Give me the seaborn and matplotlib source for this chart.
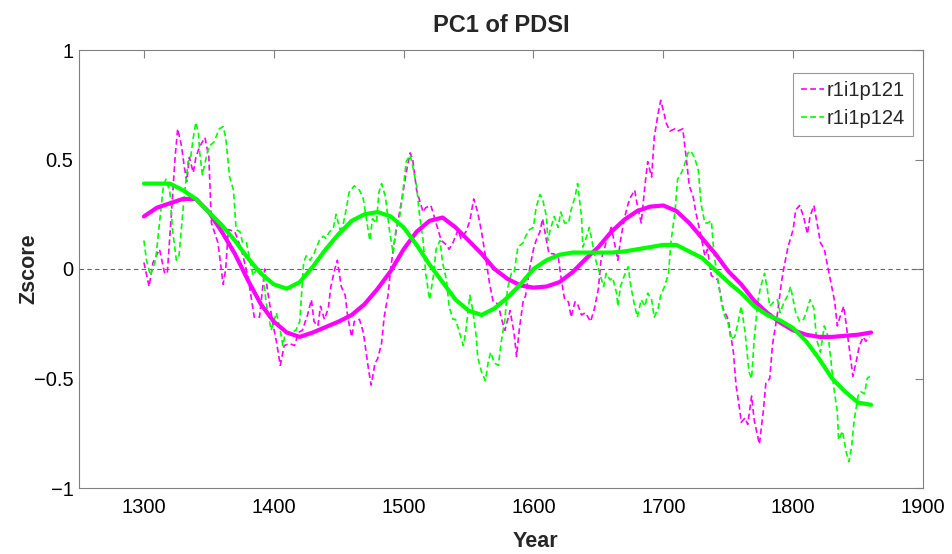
import numpy as np
import pandas as pd
import matplotlib
matplotlib.use("Agg")
import matplotlib.pyplot as plt
import seaborn as sns

# raw PC1 series (dashed)
yr_121 = [1300, 1304, 1307, 1312, 1316, 1318, 1321, 1324, 1326, 1329, 1331, 1333, 1335, 1338,
          1340, 1343, 1347, 1350, 1352, 1357, 1361, 1363, 1365, 1370, 1375, 1380, 1385, 1389,
          1393, 1395, 1399, 1402, 1405, 1408, 1412, 1416, 1419, 1422, 1426, 1429, 1431, 1434,
          1436, 1439, 1442, 1444, 1447, 1449, 1452, 1455, 1457, 1460, 1462, 1466, 1469, 1473,
          1475, 1478, 1480, 1483, 1485, 1488, 1490, 1493, 1496, 1499, 1502, 1505, 1507, 1510,
          1512, 1515, 1517, 1521, 1524, 1529, 1533, 1535, 1538, 1542, 1544, 1548, 1551, 1554,
          1557, 1560, 1563, 1566, 1569, 1573, 1575, 1578, 1582, 1585, 1587, 1589, 1592, 1594,
          1597, 1600, 1602, 1605, 1607, 1610, 1612, 1615, 1619, 1621, 1624, 1627, 1629, 1632,
          1634, 1637, 1640, 1642, 1644, 1647, 1650, 1652, 1655, 1657, 1660, 1662, 1665, 1667,
          1670, 1673, 1675, 1678, 1680, 1683, 1686, 1688, 1691, 1693, 1696, 1698, 1701, 1702,
          1705, 1709, 1711, 1715, 1718, 1720, 1723, 1725, 1729, 1732, 1734, 1737, 1742, 1746,
          1750, 1754, 1756, 1759, 1760, 1763, 1765, 1768, 1770, 1774, 1777, 1779, 1782, 1784,
          1788, 1791, 1793, 1796, 1800, 1802, 1805, 1808, 1811, 1813, 1816, 1819, 1821, 1824,
          1827, 1829, 1832, 1834, 1836, 1839, 1841, 1844, 1846, 1849, 1851, 1854, 1856, 1859]
pc_121 = [0.03, -0.08, 0.03, 0.09, -0.02, -0.02, 0.24, 0.51, 0.64, 0.56, 0.47, 0.40, 0.51, 0.44,
          0.51, 0.56, 0.60, 0.51, 0.21, 0.12, -0.07, 0.00, 0.18, 0.17, 0.09, -0.03, -0.22, -0.22,
          0.00, -0.09, -0.24, -0.33, -0.44, -0.35, -0.34, -0.35, -0.29, -0.28, -0.21, -0.14, -0.24, -0.26,
          -0.17, -0.23, -0.18, -0.08, 0.00, 0.04, -0.08, -0.12, -0.22, -0.31, -0.24, -0.23, -0.29, -0.46,
          -0.53, -0.43, -0.41, -0.34, -0.22, -0.12, 0.00, 0.13, 0.23, 0.33, 0.44, 0.53, 0.50, 0.36,
          0.32, 0.26, 0.28, 0.29, 0.23, 0.13, 0.11, 0.09, 0.12, 0.18, 0.14, 0.17, 0.22, 0.32,
          0.26, 0.17, 0.06, -0.06, -0.15, -0.16, -0.22, -0.28, -0.19, -0.29, -0.40, -0.28, -0.15, -0.12,
          0.00, 0.09, 0.13, 0.17, 0.23, 0.13, 0.07, 0.07, 0.06, -0.03, -0.14, -0.15, -0.22, -0.15,
          -0.16, -0.21, -0.20, -0.22, -0.24, -0.18, -0.09, 0.04, 0.10, 0.15, 0.19, 0.13, 0.04, 0.13,
          0.23, 0.30, 0.33, 0.36, 0.29, 0.21, 0.39, 0.49, 0.42, 0.60, 0.71, 0.77, 0.70, 0.67,
          0.63, 0.64, 0.63, 0.64, 0.49, 0.38, 0.33, 0.26, 0.15, 0.06, 0.09, -0.03, -0.05, -0.18,
          -0.23, -0.38, -0.53, -0.65, -0.70, -0.68, -0.71, -0.58, -0.69, -0.80, -0.65, -0.52, -0.50, -0.35,
          -0.20, -0.06, 0.01, 0.10, 0.18, 0.27, 0.29, 0.24, 0.16, 0.24, 0.29, 0.19, 0.12, 0.09,
          0.00, -0.06, -0.15, -0.26, -0.22, -0.17, -0.26, -0.40, -0.49, -0.41, -0.35, -0.31, -0.33, -0.31]

yr_124 = [1300, 1302, 1305, 1309, 1312, 1315, 1317, 1320, 1322, 1325, 1327, 1331, 1334, 1336,
          1338, 1340, 1342, 1343, 1345, 1348, 1350, 1354, 1358, 1361, 1363, 1366, 1369, 1371,
          1374, 1376, 1379, 1381, 1384, 1388, 1392, 1394, 1398, 1402, 1405, 1407, 1409, 1413,
          1417, 1420, 1423, 1425, 1428, 1431, 1435, 1438, 1440, 1443, 1446, 1448, 1451, 1453,
          1456, 1458, 1462, 1466, 1469, 1471, 1474, 1476, 1479, 1481, 1483, 1486, 1489, 1492,
          1494, 1497, 1499, 1502, 1505, 1507, 1510, 1512, 1515, 1517, 1520, 1523, 1525, 1528,
          1530, 1533, 1535, 1538, 1540, 1543, 1546, 1548, 1551, 1553, 1556, 1557, 1560, 1563,
          1565, 1567, 1570, 1573, 1575, 1578, 1580, 1583, 1585, 1588, 1592, 1594, 1597, 1600,
          1602, 1605, 1607, 1610, 1611, 1613, 1616, 1619, 1621, 1624, 1627, 1629, 1632, 1634,
          1637, 1638, 1640, 1643, 1646, 1648, 1651, 1654, 1656, 1659, 1661, 1664, 1665, 1667,
          1670, 1673, 1675, 1678, 1680, 1683, 1686, 1688, 1691, 1693, 1696, 1698, 1701, 1704,
          1706, 1709, 1711, 1714, 1716, 1719, 1721, 1724, 1727, 1729, 1732, 1734, 1737, 1739,
          1742, 1745, 1747, 1750, 1752, 1755, 1757, 1760, 1763, 1766, 1768, 1770, 1773, 1775,
          1778, 1780, 1782, 1785, 1788, 1790, 1793, 1796, 1798, 1800, 1802, 1805, 1808, 1810,
          1813, 1816, 1818, 1821, 1824, 1827, 1829, 1831, 1834, 1835, 1838, 1841, 1843, 1845,
          1847, 1850, 1852, 1855, 1857, 1859]
pc_124 = [0.13, 0.04, -0.03, 0.04, 0.21, 0.38, 0.41, 0.35, 0.18, 0.04, 0.06, 0.33, 0.49, 0.51,
          0.60, 0.67, 0.62, 0.53, 0.43, 0.51, 0.56, 0.58, 0.64, 0.65, 0.60, 0.42, 0.36, 0.18,
          0.17, 0.12, 0.12, 0.06, -0.03, 0.01, -0.03, -0.15, -0.28, -0.20, -0.28, -0.35, -0.29, -0.29,
          -0.28, -0.24, 0.03, 0.06, 0.04, 0.07, 0.13, 0.15, 0.14, 0.17, 0.19, 0.25, 0.18, 0.19,
          0.28, 0.35, 0.38, 0.36, 0.32, 0.24, 0.13, 0.23, 0.21, 0.35, 0.39, 0.33, 0.18, 0.07,
          0.18, 0.24, 0.33, 0.49, 0.52, 0.47, 0.38, 0.26, 0.13, -0.02, -0.14, -0.03, 0.09, 0.13,
          0.03, -0.05, -0.17, -0.23, -0.23, -0.29, -0.35, -0.28, -0.12, -0.18, -0.31, -0.40, -0.47, -0.51,
          -0.43, -0.38, -0.43, -0.44, -0.34, -0.23, -0.09, -0.02, -0.02, 0.10, 0.12, 0.15, 0.18, 0.19,
          0.28, 0.34, 0.32, 0.24, 0.13, 0.18, 0.24, 0.19, 0.26, 0.21, 0.21, 0.27, 0.33, 0.39,
          0.24, 0.10, 0.13, 0.19, 0.10, 0.04, -0.02, -0.08, -0.02, -0.05, -0.04, -0.11, -0.17, -0.08,
          -0.03, 0.01, -0.08, -0.17, -0.22, -0.14, -0.17, -0.11, -0.14, -0.22, -0.18, -0.12, -0.08, -0.02,
          0.13, 0.26, 0.41, 0.44, 0.47, 0.53, 0.54, 0.51, 0.45, 0.30, 0.21, 0.21, 0.22, 0.07,
          -0.05, -0.16, -0.21, -0.25, -0.32, -0.31, -0.26, -0.17, -0.29, -0.47, -0.50, -0.32, -0.14, -0.08,
          -0.02, -0.09, -0.17, -0.15, -0.14, -0.20, -0.15, -0.12, -0.08, -0.14, -0.20, -0.24, -0.23, -0.20,
          -0.14, -0.18, -0.32, -0.38, -0.26, -0.31, -0.41, -0.53, -0.65, -0.78, -0.74, -0.84, -0.88, -0.81,
          -0.69, -0.58, -0.56, -0.57, -0.50, -0.49]

# low-pass versions (thick solid)
yr_smooth = list(range(1300, 1861, 10))
sm_121 = [0.24, 0.28, 0.30, 0.32, 0.32, 0.26, 0.17, 0.07, -0.05, -0.16, -0.24, -0.29, -0.31, -0.29,
          -0.265, -0.24, -0.21, -0.16, -0.09, -0.01, 0.09, 0.17, 0.22, 0.235, 0.19, 0.13, 0.07, 0.0,
          -0.045, -0.075, -0.085, -0.08, -0.06, -0.015, 0.045, 0.10, 0.17, 0.225, 0.265, 0.285, 0.29,
          0.265, 0.21, 0.14, 0.07, -0.01, -0.07, -0.145, -0.20, -0.245, -0.28, -0.30, -0.31, -0.31,
          -0.305, -0.30, -0.29]
sm_124 = [0.39, 0.39, 0.39, 0.36, 0.32, 0.26, 0.20, 0.13, 0.05, -0.02, -0.07, -0.09, -0.06, 0.01,
          0.09, 0.16, 0.22, 0.25, 0.26, 0.24, 0.19, 0.11, 0.02, -0.06, -0.14, -0.19, -0.21, -0.18,
          -0.13, -0.07, 0.0, 0.04, 0.065, 0.075, 0.075, 0.075, 0.075, 0.08, 0.09, 0.10, 0.11,
          0.11, 0.08, 0.05, -0.005, -0.06, -0.11, -0.17, -0.21, -0.235, -0.27, -0.33, -0.41, -0.50,
          -0.56, -0.61, -0.62]

MAG = "#ff00ff"
GRN = "#00ff00"
EDGE = "#808080"

sns.set_style("white")
plt.rcParams["font.family"] = ["Liberation Sans", "DejaVu Sans"]
plt.rcParams["axes.unicode_minus"] = True

fig = plt.figure(figsize=(9.53, 5.54), dpi=100)
ax = fig.add_axes([79 / 953, 1 - 488 / 554, (923 - 79) / 953, (488 - 50) / 554])

ax.axhline(0, color="#666666", lw=0.8, ls=(0, (4, 3)), zorder=1)

sns.lineplot(x=yr_121, y=pc_121, ax=ax, color=MAG, lw=1.2, ls=(0, (3.5, 2)), label="r1i1p121")
sns.lineplot(x=yr_124, y=pc_124, ax=ax, color=GRN, lw=1.2, ls=(0, (3.5, 2)), label="r1i1p124")
sns.lineplot(x=yr_smooth, y=sm_121, ax=ax, color=MAG, lw=3.0, legend=False)
sns.lineplot(x=yr_smooth, y=sm_124, ax=ax, color=GRN, lw=3.0, legend=False)

ax.set_xlim(1250, 1900)
ax.set_ylim(-1, 1)
ax.set_xticks([1300, 1400, 1500, 1600, 1700, 1800, 1900])
ax.set_yticks([-1, -0.5, 0, 0.5, 1])
ax.set_yticklabels(["\u22121", "\u22120.5", "0", "0.5", "1"])

for s in ax.spines.values():
    s.set_color(EDGE)
    s.set_linewidth(0.8)
ax.tick_params(direction="in", length=6, width=0.8, color=EDGE, labelsize=14.5,
               labelcolor="black", top=True, right=True)
ax.tick_params(axis="y", pad=4)
ax.tick_params(axis="x", pad=7)

ax.set_title("PC1 of PDSI", fontsize=17, fontweight="bold", pad=13)
ax.set_xlabel("Year", fontsize=15.5, fontweight="bold")
ax.set_ylabel("Zscore", fontsize=15.5, fontweight="bold")
ax.xaxis.set_label_coords((535 - 79) / 844, -0.098)
ax.yaxis.set_label_coords((39 - 79) / 844, 0.5)

leg = ax.legend(loc="upper right", bbox_to_anchor=(0.988, 0.948), borderaxespad=0,
                fontsize=14.5, frameon=True, fancybox=False, handlelength=1.1,
                handletextpad=0.15, borderpad=0.4, labelspacing=0.45)
leg.get_frame().set_edgecolor(EDGE)
leg.get_frame().set_linewidth(0.8)

fig.savefig("out.png", dpi=100)
